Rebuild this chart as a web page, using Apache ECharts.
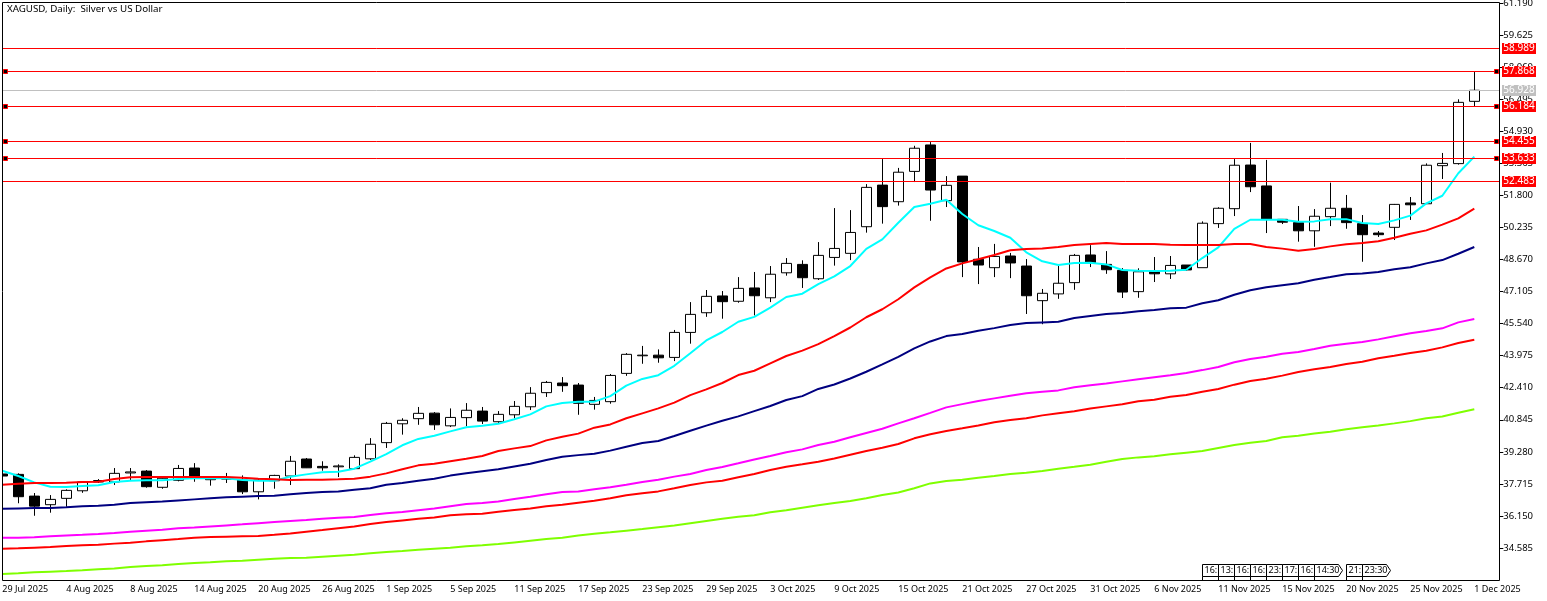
<!DOCTYPE html>
<html>
<head>
<meta charset="utf-8">
<title>XAGUSD Daily</title>
<script src="https://cdn.jsdelivr.net/npm/echarts@6/dist/echarts.min.js"></script>
<style>
html, body { margin: 0; padding: 0; background: #fff; }
#chart { width: 1547px; height: 601px; }
</style>
</head>
<body>
<div id="chart"></div>
<script>
// daily bars, 29 Jul 2025 .. 1 Dec 2025
var opens = [38.20,38.18,37.12,36.70,37.01,37.38,37.81,37.81,38.25,38.34,37.55,37.89,38.49,37.92,37.95,37.90,37.33,37.87,38.10,38.93,38.57,38.55,38.46,38.94,
  39.73,40.65,40.90,41.17,40.55,40.95,41.27,40.75,41.09,41.48,42.17,42.64,42.54,41.60,41.73,43.11,43.97,44.00,43.89,45.11,46.07,46.89,46.63,47.28,46.80,48.02,
  48.43,47.73,48.77,48.97,50.27,52.30,51.49,52.97,54.26,51.54,52.74,48.68,48.27,48.84,48.35,46.66,46.99,47.54,48.89,48.43,48.14,47.10,48.09,47.97,48.40,
  48.27,50.42,51.15,53.28,52.26,50.63,50.47,50.07,50.76,51.17,50.42,49.96,50.24,51.43,51.39,53.25,53.35,56.39];
var closes = [38.10,37.09,36.63,36.96,37.40,37.81,37.88,38.23,38.30,37.58,37.99,38.47,38.04,37.97,38.00,37.33,37.90,38.13,38.82,38.50,38.50,38.59,39.01,39.65,
  40.67,40.82,41.16,40.60,40.96,41.31,40.78,41.11,41.50,42.14,42.67,42.51,41.65,41.79,43.01,44.04,44.00,43.87,45.11,45.99,46.87,46.61,47.26,46.90,47.95,48.48,
  47.78,48.87,49.21,49.99,52.19,51.25,52.93,54.10,52.06,52.29,48.55,48.40,48.82,48.50,46.90,47.02,47.51,48.87,48.51,48.17,47.08,48.07,47.97,48.38,48.16,
  50.44,51.17,53.27,52.22,50.63,50.49,50.07,50.78,51.17,50.47,49.88,49.88,51.36,51.34,53.27,53.36,56.34,56.93];
var lows = [38.10,36.77,36.16,36.31,36.60,37.28,37.76,37.66,37.90,37.53,37.48,37.84,37.82,37.63,37.76,37.22,36.96,37.48,37.66,38.49,38.36,38.05,38.44,38.88,
  39.47,40.12,40.60,40.35,40.49,40.53,40.64,40.64,40.92,41.32,41.96,42.21,41.09,41.34,41.63,42.99,43.58,43.63,43.71,44.56,45.87,45.78,46.56,45.94,46.59,47.88,
  47.28,47.67,48.37,48.64,49.98,50.42,51.30,52.45,50.56,51.23,47.81,47.47,47.81,47.76,46.01,45.51,46.75,47.19,48.30,47.97,46.79,46.80,47.57,47.72,48.12,
  48.27,50.21,50.79,51.96,49.96,50.40,49.54,49.29,50.30,50.17,48.56,49.77,49.62,50.60,51.39,52.60,53.30,56.16];
var highs = [38.20,38.23,37.27,37.17,37.45,37.82,37.95,38.49,38.49,38.39,38.04,38.64,38.73,38.00,38.25,38.13,38.00,38.16,39.08,38.98,38.82,38.67,39.11,39.95,
  40.74,40.92,41.47,41.22,41.40,41.66,41.47,41.27,41.76,42.44,42.74,42.93,42.64,41.96,43.08,44.10,44.45,44.28,45.23,46.59,47.18,47.13,47.81,48.06,48.35,48.74,
  48.63,49.52,51.18,51.08,52.35,53.57,53.14,54.22,54.40,52.74,52.74,49.28,49.43,48.99,48.69,47.23,48.37,48.94,49.37,49.08,48.25,48.24,48.79,48.84,48.40,
  50.53,51.22,53.57,54.36,53.53,50.64,51.28,51.13,52.42,51.82,50.84,50.06,51.38,51.72,53.36,53.87,56.49,57.82];

// moving averages, fastest first
var maAqua = [38.36,38.10,37.79,37.58,37.56,37.61,37.65,37.81,37.87,37.89,37.89,37.95,37.99,37.99,37.99,37.90,37.87,37.87,38.07,38.18,38.28,38.31,38.46,38.80,
  39.17,39.60,39.91,40.07,40.28,40.48,40.55,40.65,40.87,41.11,41.50,41.66,41.73,41.73,42.00,42.51,42.84,43.02,43.48,44.09,44.72,45.13,45.63,45.87,46.32,46.84,
  47.00,47.47,47.85,48.35,49.19,49.65,50.46,51.23,51.39,51.59,50.89,50.34,50.06,49.73,49.02,48.58,48.40,48.50,48.51,48.43,48.16,48.12,48.11,48.12,48.17,
  48.74,49.26,50.16,50.61,50.61,50.61,50.51,50.53,50.63,50.64,50.45,50.40,50.58,50.81,51.41,51.78,52.88,53.69];
var maRedFast = [37.67,37.72,37.76,37.76,37.77,37.81,37.82,37.95,38.04,38.05,38.05,38.05,38.05,38.05,38.05,38.02,37.97,37.94,37.90,37.92,37.92,37.94,37.97,38.07,
  38.23,38.43,38.62,38.70,38.82,38.94,39.08,39.32,39.45,39.56,39.84,40.02,40.17,40.46,40.62,40.92,41.16,41.40,41.68,42.05,42.33,42.64,43.03,43.24,43.60,43.96,
  44.22,44.54,44.93,45.35,45.85,46.24,46.73,47.31,47.80,48.23,48.48,48.68,48.89,49.12,49.18,49.21,49.28,49.38,49.43,49.47,49.43,49.43,49.43,49.39,49.38,
  49.38,49.38,49.43,49.43,49.28,49.20,49.10,49.18,49.31,49.41,49.47,49.56,49.73,49.93,50.09,50.37,50.68,51.15];
var maNavy = [36.50,36.52,36.54,36.54,36.57,36.62,36.65,36.70,36.78,36.82,36.86,36.91,36.96,37.01,37.06,37.09,37.12,37.14,37.21,37.27,37.32,37.35,37.43,37.50,
  37.67,37.76,37.87,37.97,38.12,38.23,38.33,38.43,38.57,38.70,38.88,39.04,39.12,39.19,39.34,39.53,39.71,39.81,40.05,40.31,40.56,40.80,41.01,41.27,41.52,41.81,
  42.00,42.35,42.57,42.86,43.19,43.55,43.92,44.33,44.67,44.93,45.03,45.19,45.32,45.47,45.57,45.60,45.63,45.81,45.91,46.01,46.06,46.14,46.20,46.29,46.32,
  46.53,46.68,46.95,47.17,47.31,47.41,47.51,47.68,47.81,47.95,47.99,48.06,48.19,48.29,48.48,48.64,48.95,49.28];
var maMagenta = [35.09,35.09,35.11,35.16,35.20,35.23,35.27,35.32,35.38,35.43,35.48,35.55,35.59,35.64,35.69,35.74,35.80,35.85,35.90,35.95,36.01,36.06,36.10,36.20,
  36.28,36.34,36.43,36.52,36.63,36.73,36.78,36.86,36.98,37.09,37.21,37.32,37.35,37.45,37.55,37.67,37.81,37.92,38.07,38.20,38.39,38.54,38.72,38.91,39.08,39.26,
  39.40,39.61,39.77,39.99,40.20,40.41,40.67,40.92,41.18,41.45,41.61,41.76,41.89,42.02,42.14,42.21,42.28,42.43,42.53,42.62,42.72,42.82,42.92,43.02,43.13,
  43.27,43.42,43.65,43.81,43.92,44.07,44.15,44.30,44.46,44.56,44.64,44.77,44.92,45.07,45.18,45.31,45.60,45.76];
var maRedSlow = [34.55,34.57,34.60,34.63,34.68,34.72,34.75,34.80,34.84,34.91,34.97,35.02,35.09,35.12,35.14,35.16,35.17,35.23,35.30,35.38,35.46,35.55,35.64,35.76,
  35.85,35.93,36.01,36.08,36.18,36.23,36.26,36.36,36.44,36.52,36.63,36.70,36.80,36.89,37.01,37.16,37.26,37.35,37.50,37.66,37.79,37.87,38.04,38.20,38.39,38.55,
  38.67,38.80,38.96,39.14,39.32,39.48,39.66,39.94,40.14,40.30,40.43,40.57,40.72,40.83,40.92,41.06,41.16,41.26,41.40,41.50,41.60,41.75,41.82,41.97,42.05,
  42.21,42.35,42.56,42.74,42.85,43.00,43.18,43.31,43.42,43.57,43.68,43.85,43.97,44.10,44.22,44.38,44.59,44.75];
var maLime = [33.32,33.35,33.40,33.43,33.46,33.50,33.55,33.59,33.66,33.71,33.75,33.80,33.85,33.89,33.94,33.96,34.01,34.06,34.10,34.11,34.16,34.21,34.26,34.33,
  34.39,34.44,34.50,34.55,34.60,34.67,34.72,34.78,34.86,34.94,35.02,35.09,35.20,35.28,35.35,35.43,35.51,35.60,35.69,35.80,35.91,36.01,36.11,36.18,36.33,36.43,
  36.55,36.67,36.78,36.88,37.01,37.17,37.30,37.50,37.74,37.86,37.92,38.02,38.10,38.20,38.26,38.34,38.46,38.55,38.65,38.80,38.93,39.01,39.06,39.16,39.24,
  39.32,39.47,39.61,39.72,39.81,39.99,40.07,40.17,40.26,40.38,40.48,40.57,40.67,40.78,40.92,41.01,41.19,41.36];

// x axis labels, one every fourth bar
var dateLabels = ['29 Jul 2025','4 Aug 2025','8 Aug 2025','14 Aug 2025','20 Aug 2025','26 Aug 2025','1 Sep 2025','5 Sep 2025','11 Sep 2025','17 Sep 2025',
  '23 Sep 2025','29 Sep 2025','3 Oct 2025','9 Oct 2025','15 Oct 2025','21 Oct 2025','27 Oct 2025','31 Oct 2025','6 Nov 2025','11 Nov 2025','15 Nov 2025',
  '20 Nov 2025','25 Nov 2025','1 Dec 2025'];
var priceTicks = [61.190,59.625,58.060,56.495,54.930,53.365,51.800,50.235,48.670,47.105,45.540,43.975,42.410,40.845,39.280,37.715,36.150,34.585];

// horizontal levels
var levelPrices = [58.989,57.868,56.184,54.455,53.633,52.483];
var anchoredLevels = [57.868,56.184,54.455,53.633];
var lastPrice = 56.928;

// session flags at the bottom of the chart
var flagBars = [75,76,77,78,79,80,81,82,84,85];
var flagTexts = ['16:','13:','16:','16:','23:','17:','16:','14:30','21:','23:30'];

var FONT = '"Noto Sans", sans-serif';
var categories = closes.map(function (c, i) { return String(i); }).concat(['']);
var candles = closes.map(function (c, i) { return [opens[i], c, lows[i], highs[i]]; });
var PLOT_LEFT = 2.5, PLOT_RIGHT = 1499.5;

function maSeries(name, values, color) {
  return {
    name: name, type: 'line', data: values, showSymbol: false, silent: true, z: 3,
    lineStyle: { color: color, width: 2 }
  };
}

function renderLevel(params, api) {
  var price = api.value(1);
  var y = Math.round(api.coord([0, price])[1]) + 0.5;
  var isLast = price === lastPrice;
  var color = isLast ? '#c0c0c0' : '#ff0000';
  var kids = [
    { type: 'line', shape: { x1: PLOT_LEFT, y1: y, x2: PLOT_RIGHT, y2: y }, style: { stroke: color, lineWidth: 1 } },
    { type: 'rect', shape: { x: 1502, y: y - 5.5, width: 34, height: 11 }, style: { fill: color } },
    { type: 'text', x: 1519, y: y, style: { text: price.toFixed(3), fill: '#fff', font: '10px ' + FONT, align: 'center', verticalAlign: 'middle' } }
  ];
  if (anchoredLevels.indexOf(price) >= 0) {
    [3.5, 1494.5].forEach(function (x) {
      kids.push({ type: 'rect', shape: { x: x, y: y - 2, width: 4, height: 4 }, style: { fill: '#000', stroke: '#ff0000', lineWidth: 1 } });
    });
  }
  return { type: 'group', children: kids };
}

function renderFlag(params, api) {
  var i = params.dataIndex;
  var x = Math.round(api.coord([api.value(0), 40])[0]) + 0.5;
  var text = flagTexts[i];
  var wide = text.length > 3;
  var w = wide ? 24 : 16;
  var pts = wide
    ? [[x, 564.5], [x + w, 564.5], [x + w + 4, 570.5], [x + w, 576.5], [x, 576.5]]
    : [[x, 564.5], [x + w, 564.5], [x + w, 576.5], [x, 576.5]];
  return {
    type: 'group',
    children: [
      { type: 'polygon', shape: { points: pts }, style: { fill: '#fff', stroke: '#000', lineWidth: 1 } },
      { type: 'line', shape: { x1: x, y1: 576.5, x2: x, y2: 580.5 }, style: { stroke: '#000', lineWidth: 1 } },
      { type: 'text', x: x + 2, y: 570.5, style: { text: text, fill: '#000', font: '9px ' + FONT, verticalAlign: 'middle' } }
    ]
  };
}

var chart = echarts.init(document.getElementById('chart'), null, { renderer: 'canvas' });
chart.setOption({
  animation: false,
  backgroundColor: '#fff',
  title: {
    text: 'XAGUSD, Daily:  Silver vs US Dollar',
    left: 7, top: 4, padding: 0,
    textStyle: { fontFamily: FONT, fontSize: 9.75, fontWeight: 'normal', color: '#000' }
  },
  grid: { left: -5.7, top: 2.5, width: 1504, height: 578, outerBoundsMode: 'none' },
  xAxis: {
    type: 'category',
    data: categories,
    axisLine: { show: false },
    axisTick: { alignWithLabel: true, interval: 3, length: 5, lineStyle: { color: '#000' } },
    axisLabel: {
      interval: 3, margin: 4, align: 'left', hideOverlap: false,
      color: '#000', fontFamily: FONT, fontSize: 9,
      formatter: function (v, i) { return dateLabels[i / 4] || ''; }
    },
    splitLine: { show: false }
  },
  yAxis: {
    type: 'value',
    position: 'right',
    offset: 1,
    min: 33.0,
    max: 61.2144,
    axisLine: { show: false },
    axisTick: { show: true, length: 4, customValues: priceTicks, lineStyle: { color: '#000' } },
    axisLabel: {
      margin: 4, color: '#000', fontFamily: FONT, fontSize: 9.5,
      customValues: priceTicks,
      formatter: function (v) { return v.toFixed(3); }
    },
    splitLine: { show: false }
  },
  graphic: [
    { type: 'rect', z: 50, shape: { x: 0, y: 0, width: 2, height: 601 }, style: { fill: '#fff' } },
    { type: 'rect', z: 51, shape: { x: PLOT_LEFT, y: 2.5, width: PLOT_RIGHT - PLOT_LEFT, height: 578 }, style: { fill: 'none', stroke: '#000', lineWidth: 1 } }
  ],
  series: [
    {
      name: 'XAGUSD', type: 'candlestick', data: candles, barWidth: 10, silent: true, z: 2,
      itemStyle: { color: '#fff', color0: '#000', borderColor: '#000', borderColor0: '#000', borderWidth: 1 }
    },
    maSeries('MA aqua', maAqua, '#00ffff'),
    maSeries('MA red fast', maRedFast, '#ff0000'),
    maSeries('MA navy', maNavy, '#000080'),
    maSeries('MA magenta', maMagenta, '#ff00ff'),
    maSeries('MA red slow', maRedSlow, '#ff0000'),
    maSeries('MA lime', maLime, '#7fff00'),
    {
      name: 'levels', type: 'custom', silent: true, z: 5,
      data: [lastPrice].concat(levelPrices).map(function (p) { return [0, p]; }),
      renderItem: renderLevel
    },
    {
      name: 'flags', type: 'custom', silent: true, z: 6,
      data: flagBars.map(function (b) { return [b, 34]; }),
      renderItem: renderFlag
    }
  ]
});
</script>
</body>
</html>
